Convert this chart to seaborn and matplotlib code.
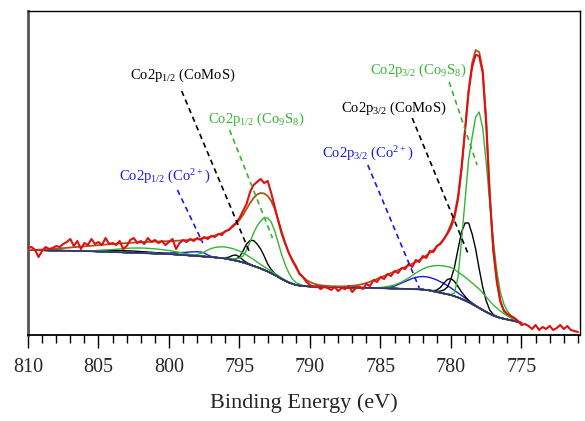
import numpy as np
import matplotlib
matplotlib.use("Agg")
import matplotlib.pyplot as plt
import seaborn as sns

# ---------------- data (binding energy grid step 0.25 eV) ----------------
E_START = 810.0
E_STEP = 0.25

background = [
    85.0, 85.0, 84.9, 84.8, 84.7, 84.6, 84.6, 84.5, 84.5, 84.4, 84.3, 84.2, 84.2, 84.1, 84.1, 84.0,
    84.0, 83.9, 83.7, 83.6, 83.5, 83.4, 83.2, 83.1, 83.0, 82.9, 82.7, 82.6, 82.5, 82.4, 82.2, 82.1,
    82.0, 81.9, 81.7, 81.6, 81.5, 81.4, 81.2, 81.1, 81.0, 80.7, 80.5, 80.2, 80.0, 79.7, 79.5, 79.2,
    79.0, 78.7, 78.5, 78.2, 78.0, 77.6, 77.2, 76.9, 76.5, 75.8, 75.0, 74.3, 73.5, 72.5, 71.5, 70.3,
    69.0, 67.8, 66.5, 65.0, 63.5, 61.8, 60.0, 58.0, 56.0, 54.2, 52.5, 51.2, 50.0, 49.5, 49.0, 48.7,
    48.5, 48.4, 48.2, 48.1, 48.0, 47.9, 47.9, 47.8, 47.8, 47.7, 47.6, 47.6, 47.5, 47.4, 47.4, 47.3,
    47.3, 47.2, 47.1, 47.1, 47.0, 46.9, 46.7, 46.6, 46.5, 46.4, 46.2, 46.1, 46.0, 45.9, 45.8, 45.6,
    45.5, 45.0, 44.5, 43.8, 43.0, 42.2, 41.5, 40.8, 40.0, 38.8, 37.5, 36.0, 34.5, 32.8, 31.0, 29.0,
    27.0, 25.0, 23.0, 21.2, 19.5, 18.2, 17.0, 16.2, 15.5, 14.8, 14.0, 13.0, 12.0,
]

envelope = [
    85.0, 85.1, 85.2, 85.3, 85.5, 85.7, 85.9, 86.1, 86.3, 86.6, 86.9, 87.2, 87.5, 87.8, 88.1, 88.4,
    88.7, 89.0, 89.3, 89.6, 89.9, 90.2, 90.5, 90.8, 91.1, 91.4, 91.6, 91.8, 92.0, 92.2, 92.4, 92.6,
    92.8, 93.0, 93.2, 93.3, 93.4, 93.5, 93.6, 93.7, 93.8, 94.0, 94.2, 94.4, 94.6, 94.9, 95.2, 95.6,
    96.0, 96.5, 97.0, 97.7, 98.5, 99.5, 100.7, 102.0, 103.5, 105.5, 108.0, 111.0, 115.0, 120.0, 126.0, 132.0,
    137.0, 140.5, 142.0, 141.5, 139.0, 134.0, 126.0, 115.0, 103.0, 92.0, 82.0, 74.0, 67.5, 62.0, 58.0, 55.0,
    53.0, 51.5, 50.5, 49.8, 49.3, 49.0, 48.8, 48.7, 48.6, 48.6, 48.7, 48.9, 49.2, 49.6, 50.2, 51.0,
    52.0, 53.2, 54.5, 56.0, 57.5, 59.0, 60.5, 62.0, 63.5, 65.0, 66.5, 68.0, 69.5, 71.2, 73.0, 75.0,
    77.0, 79.5, 82.0, 85.0, 88.5, 92.0, 96.0, 101.0, 107.0, 117.0, 135.0, 165.0, 205.0, 245.0, 272.0, 285.0,
    283.0, 265.0, 215.0, 140.0, 85.0, 52.0, 33.0, 25.0, 21.0, 18.5, 16.5, 14.0, 12.0,
]

# measured spectrum, 810 -> 771 eV
measured = [
    87, 88, 85, 78, 84, 88, 86, 87, 89, 88, 91, 93, 96, 89, 94, 86,
    92, 90, 96, 91, 93, 90, 97, 91, 92, 90, 94, 86, 89, 95, 97, 92,
    94, 91, 97, 93, 95, 92, 94, 90, 93, 96, 86, 92, 95, 93, 96, 94,
    97, 95, 98, 96, 99, 98, 101, 100, 104, 105, 109, 112, 117, 124, 131, 143,
    150, 153, 156, 152, 154, 142, 128, 114, 101, 91, 82, 75, 69, 61, 58, 53,
    50, 48, 49, 46, 48, 47, 45, 48, 44, 47, 46, 49, 43, 47, 48, 46,
    51, 49, 55, 53, 58, 56, 61, 59, 64, 62, 67, 66, 71, 68, 75, 73,
    79, 77, 84, 83, 89, 91, 96, 102, 110, 120, 138, 168, 205, 243, 268, 280,
    279, 262, 210, 140, 85, 55, 34, 24, 21, 19, 17, 14, 10, 11, 9, 6,
    10, 5, 8, 6, 9, 5, 7, 10, 6, 9, 5, 4, 3,
]

# fitted components: (start energy, absolute intensity values)
co9s8_p32 = (780.00, [40.5, 42, 58, 95, 135, 175, 198, 218, 223, 207, 172, 132, 95, 64, 43, 31, 24,
                      19.5, 16, 13.5, 12])
co9s8_p32_sat = (785.00, [47.5, 47.9, 48.5, 49.2, 50, 51.5, 53, 55, 57, 59.5, 62, 64, 66, 67.5, 68.5,
                          69.2, 69.5, 69.4, 69, 68.4, 67.5, 65.5, 63, 60.5, 58, 55, 52, 49, 46, 42,
                          38, 34, 30, 27, 24, 21.5, 19, 17, 15.5, 13.8, 12.5])
comos_p32 = (781.00, [43.5, 44, 45, 48, 56, 68, 86, 103, 112, 112, 101, 86, 66, 48, 34, 25, 20.5,
                      18.5, 17.2])
comos_p32_b = (781.50, [44.8, 44.3, 45, 47.5, 52, 55.5, 56.5, 53.5, 48.5, 43, 38.5, 34.5, 31.8, 29.3])
co2_p32 = (785.00, [47.2, 47.3, 47.5, 48.1, 49, 50.5, 52, 53.5, 55, 56.5, 57.5, 58.2, 58.5, 58.2,
                    57.5, 56.4, 55, 53.3, 51.5, 49.3, 47, 44.5, 42, 39.5, 37, 34.5, 32, 29.5, 27.2])
co9s8_p12 = (796.00, [77, 76.5, 76, 76, 77, 79, 85, 93, 102, 109, 114, 117, 117, 113, 104, 92, 80,
                      70, 62, 56, 52.5, 50.8, 49.6, 49, 48.7])
co9s8_p12_sat = (798.50, [79.8, 80, 80.5, 81.5, 83, 85, 86.5, 87.5, 88, 88.2, 88, 87.3, 86.5, 85.3,
                          84, 82, 80, 77.8, 75.5, 73, 70.5, 68.2, 66, 63.8, 61.5, 59.2, 57, 54.8,
                          53, 51.5, 50.2])
co9s8_far_sat = (806.00, [84.1, 84.1, 84.1, 84.2, 84.4, 84.6, 84.9, 85.2, 85.6, 85.9, 86.2, 86.5,
                          86.7, 86.9, 87.0, 87.0, 87.0, 86.9, 86.7, 86.5, 86.2, 85.8, 85.4, 85.0,
                          84.5, 83.9, 83.2, 82.5, 81.8, 81.1, 80.5, 79.9, 79.4, 79.0, 78.6])
comos_p12 = (795.50, [75.5, 76, 78, 84, 91, 94.5, 94.5, 91, 86, 79, 71, 65.5, 61.5, 58.8, 56.3])
comos_p12_b = (796.25, [77.2, 77.3, 77.8, 79.5, 80, 78, 75, 72.5, 70.8, 69.2])
comos_sat = (806.00, [84.1, 84.2, 84.3, 84.4, 84.5, 84.6, 84.6, 84.6, 84.6, 84.6, 84.5, 84.4, 84.3,
                      84.1, 83.9, 83.7, 83.5, 83.3, 83.0, 82.7, 82.4, 82.1, 81.8, 81.5, 81.2,
                      80.9, 80.6, 80.3, 80.0])
co2_p12 = (801.00, [81.8, 81.8, 81.8, 81.9, 82.0, 82.1, 82.3, 82.4, 82.5, 82.8, 83.0, 83.2, 83.3,
                    83.0, 82.0, 80.0, 78.5, 77.8, 77.3])

labels = [
    r"Co2p$_{\mathrm{1/2}}$ (CoMoS)",
    r"Co2p$_{\mathrm{1/2}}$ (Co$_{\mathrm{9}}$S$_{\mathrm{8}}$)",
    r"Co2p$_{\mathrm{1/2}}$ (Co$^{\mathrm{2+}}$)",
    r"Co2p$_{\mathrm{3/2}}$ (Co$_{\mathrm{9}}$S$_{\mathrm{8}}$)",
    r"Co2p$_{\mathrm{3/2}}$ (CoMoS)",
    r"Co2p$_{\mathrm{3/2}}$ (Co$^{\mathrm{2+}}$)",
]
tick_values = [810, 805, 800, 795, 790, 785, 780, 775]

# ---------------- styling ----------------
sns.set_style("ticks")
plt.rcParams["font.family"] = ["Liberation Serif", "DejaVu Serif"]
plt.rcParams["mathtext.fontset"] = "custom"
plt.rcParams["mathtext.rm"] = "Liberation Serif"
plt.rcParams["mathtext.it"] = "Liberation Serif:italic"
plt.rcParams["mathtext.bf"] = "Liberation Serif:bold"

RED = "#e01010"
BROWN = "#a8541c"
GREEN = "#33b533"
BLUE = "#1a1ae0"
BLACK = "#000000"
BGCOL = "#3a2f7a"

fig = plt.figure(figsize=(5.85, 4.21), dpi=100)
ax = fig.add_axes([28 / 585, 86 / 421, 552 / 585, 324 / 421])

bg = np.array(background, dtype=float)
E_fit = E_START - E_STEP * np.arange(len(bg))
E_meas = E_START - E_STEP * np.arange(len(measured))


def full_curve(comp):
    start, vals = comp
    arr = bg.copy()
    i0 = int(round((E_START - start) / E_STEP))
    vals = np.asarray(vals, dtype=float)
    arr[i0:i0 + len(vals)] = vals
    return arr


def draw(x, y, color, lw, z):
    sns.lineplot(x=x, y=y, ax=ax, color=color, linewidth=lw, sort=False,
                 estimator=None, zorder=z, legend=False)


for comp in [co2_p12, co2_p32]:
    draw(E_fit, full_curve(comp), BLUE, 1.0, 3)
for comp in [comos_sat, comos_p12_b, comos_p12, comos_p32_b, comos_p32]:
    draw(E_fit, full_curve(comp), BLACK, 1.0, 3)
for comp in [co9s8_far_sat, co9s8_p12_sat, co9s8_p12, co9s8_p32_sat, co9s8_p32]:
    draw(E_fit, full_curve(comp), GREEN, 1.0, 3)

draw(E_fit, bg, BGCOL, 1.3, 4)
draw(E_fit, np.array(envelope, dtype=float), BROWN, 1.3, 5)
draw(E_meas, np.array(measured, dtype=float), RED, 1.5, 6)

# annotations: label centre, dashed leader from (x0,y0) to (x1,y1)
annots = [
    (labels[0], BLACK, (799.03, 260), (799.1, 244), (794.29, 83)),
    (labels[1], GREEN, (793.79, 216), (795.7, 205), (792.66, 97)),
    (labels[2], BLUE, (800.30, 158), (799.4, 145), (797.6, 92)),
    (labels[3], GREEN, (782.33, 265), (780.13, 253), (778.15, 170)),
    (labels[4], BLACK, (784.03, 227), (782.75, 217), (778.72, 79)),
    (labels[5], BLUE, (785.94, 181), (785.9, 170), (782.25, 47)),
]
for txt, col, tpos, p0, p1 in annots:
    ax.text(tpos[0], tpos[1], txt, color=col, fontsize=10.5, ha="center", va="center", zorder=7)
    ax.plot([p0[0], p1[0]], [p0[1], p1[1]], color=col, linewidth=1.2,
            linestyle=(0, (3.2, 2.4)), zorder=7)

ax.set_xlim(810, 770.85)
ax.set_ylim(0, 324)
ax.set_xticks(tick_values)
ax.set_xticklabels([str(t) for t in tick_values])
ax.set_xticks(np.arange(771, 811, 1), minor=True)
ax.set_yticks([])
ax.tick_params(axis="x", which="major", direction="out", length=9.5, width=1.0,
               labelsize=14.5, pad=7, color="black")
ax.tick_params(axis="x", which="minor", direction="out", length=5.5, width=1.0, color="black")
ax.set_xlabel("Binding Energy (eV)", fontsize=16, labelpad=12)
ax.set_ylabel("")

for side in ["top", "right", "bottom"]:
    ax.spines[side].set_visible(True)
    ax.spines[side].set_color("black")
ax.spines["top"].set_linewidth(1.0)
ax.spines["right"].set_linewidth(1.0)
ax.spines["bottom"].set_linewidth(1.3)
ax.spines["left"].set_color("#555555")
ax.spines["left"].set_linewidth(2.0)

fig.savefig("out.png", dpi=100)
